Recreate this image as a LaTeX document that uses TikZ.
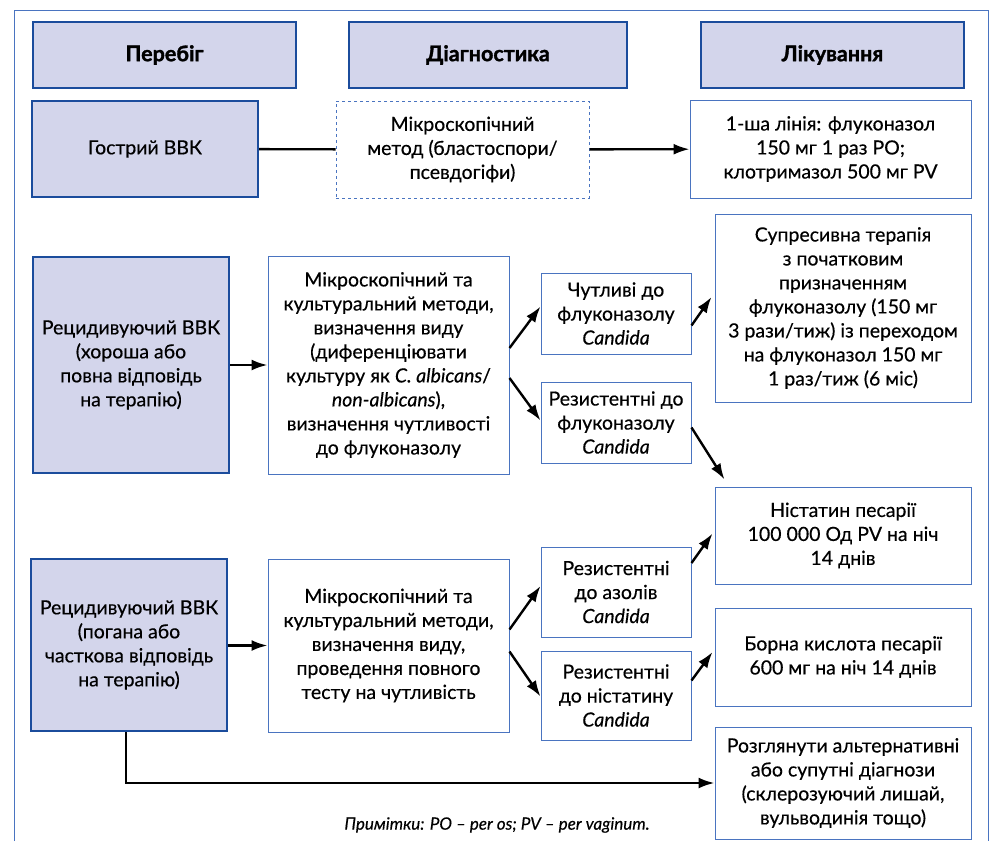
\documentclass[tikz,border=0pt]{standalone}
\usepackage{fontspec}
\setmainfont{Lato}[UprightFeatures={FakeBold=0.4}, ItalicFeatures={FakeBold=0.4}, BoldFeatures={FakeBold=1.5}]
\usepackage{xcolor}
\usepackage{tikz}
\usetikzlibrary{arrows.meta}

\definecolor{lav}{HTML}{D3D5EB}
\definecolor{dblue}{HTML}{1B4C9C}
\definecolor{lblue}{HTML}{4A74C0}

\begin{document}
\begin{tikzpicture}[x=1pt,y=-1pt,
    every node/.style={font=\fontsize{19.5}{24}\selectfont, align=center, inner sep=2pt},
    head/.style={draw=dblue, line width=2.2pt, fill=lav, font=\fontsize{21.5}{24}\selectfont\bfseries},
    course/.style={draw=dblue, line width=2.2pt, fill=lav},
    plainbox/.style={draw=lblue, line width=1pt, fill=white},
    dashbox/.style={draw=lblue, line width=1pt, dashed, fill=white},
    arr/.style={-{Latex[length=16pt,width=11pt]}, line width=2.4pt},
    ln/.style={line width=2.4pt}]
        \useasboundingbox (0,0) rectangle (993,841);
        % Рамка
        \draw[lblue, line width=1pt] (14,841) -- (14,10) -- (988,10) -- (988,841);
        % Заголовки
        \node[head, minimum width=263, minimum height=66] (hper) at (164.5,55) {Перебіг};
        \node[head, minimum width=278, minimum height=66] (hdiag) at (488,55) {Діагностика};
        \node[head, minimum width=263, minimum height=66] (hlik) at (832.5,55) {Лікування};
        % Гострий
        \node[course, minimum width=226, minimum height=96] (acute) at (145,149) {Гострий ВВК};
        \node[dashbox, minimum width=253, minimum height=97] (mik1) at (462.5,149.5) {Мікроскопічний\\метод (бластоспори/\\псевдогіфи)};
        \node[plainbox, minimum width=281, minimum height=98] (tx1) at (830.5,149) {1-ша лінія: флуконазол\\150 мг 1 раз PO;\\клотримазол 500 мг PV};
        % Рецидивуючий, хороша відповідь
        \node[course, minimum width=196, minimum height=216] (rec1) at (131,365) {Рецидивуючий ВВК\\(хороша або\\повна відповідь\\на терапію)};
        \node[plainbox, minimum width=241, minimum height=218] (mik2) at (388.5,365) {Мікроскопічний та\\культуральний методи,\\визначення виду\\(диференціювати\\культуру як \textit{C. albicans}/\\\textit{non-albicans}),\\визначення чутливості\\до флуконазолу};
        \node[plainbox, minimum width=150, minimum height=81] (sens) at (616,313.5) {Чутливі до\\флуконазолу\\\textit{Candida}};
        \node[plainbox, minimum width=150, minimum height=81] (resf) at (616,422.5) {Резистентні до\\флуконазолу\\\textit{Candida}};
        \node[plainbox, minimum width=256, minimum height=188] (supp) at (843,308) {Супресивна терапія\\з початковим\\призначенням\\флуконазолу (150 мг\\3 рази/тиж) із переходом\\на флуконазол 150 мг\\1 раз/тиж (6 міс)};
        % Рецидивуючий, погана відповідь
        \node[course, minimum width=196, minimum height=172] (rec2) at (129,645) {Рецидивуючий ВВК\\(погана або\\часткова відповідь\\на терапію)};
        \node[plainbox, minimum width=241, minimum height=173] (mik3) at (388.5,645.5) {Мікроскопічний та\\культуральний методи,\\визначення виду,\\проведення повного\\тесту на чутливість};
        \node[plainbox, minimum width=150, minimum height=90] (resaz) at (616,592) {Резистентні\\до азолів\\\textit{Candida}};
        \node[plainbox, minimum width=150, minimum height=89] (resnys) at (616,695.5) {Резистентні\\до ністатину\\\textit{Candida}};
        \node[plainbox, minimum width=256, minimum height=97] (nyst) at (843,535.5) {Ністатин песарії\\100 000 Од PV на ніч\\14 днів};
        \node[plainbox, minimum width=256, minimum height=98] (boric) at (843,657) {Борна кислота песарії\\600 мг на ніч 14 днів};
        \node[plainbox, minimum width=256, minimum height=112] (alt) at (843,783) {Розглянути альтернативні\\або супутні діагнози\\(склерозуючий лишай,\\вульводинія тощо)};
        \node[font=\fontsize{17}{20}\selectfont\itshape] (note) at (497,825) {Примітки: PO – per os; PV – per vaginum.};
        % Стрілки
        \draw[ln] (acute) -- (mik1);
        \draw[arr] (mik1) -- (tx1);
        \draw[arr] (rec1.east |- mik2.west) -- (mik2.west);
        \draw[arr] ([yshift=17pt]mik2.east) -- ([yshift=7pt]sens.west);
        \draw[arr] ([yshift=-13pt]mik2.east) -- ([yshift=2pt]resf.west);
        \draw[arr] ([yshift=-12pt]sens.east) -- ([xshift=-3pt,yshift=11pt]supp.west);
        \draw[arr] ([yshift=-5pt]resf.east) -- ([xshift=10pt,yshift=7pt]nyst.north west);
        \draw[arr] (rec2.east |- mik3.west) -- (mik3.west);
        \draw[arr] ([yshift=16pt]mik3.east) -- ([yshift=6pt]resaz.west);
        \draw[arr] ([yshift=-6pt]mik3.east) -- ([yshift=-1pt]resnys.west);
        \draw[arr] ([yshift=29pt]resaz.east) -- ([xshift=-2pt,yshift=2pt]nyst.west);
        \draw[arr] ([yshift=15pt]resnys.east) -- ([xshift=-2pt,yshift=5pt]boric.west);
        \draw[arr] ([xshift=-3pt]rec2.south) |- (alt.west);
\end{tikzpicture}
\end{document}
